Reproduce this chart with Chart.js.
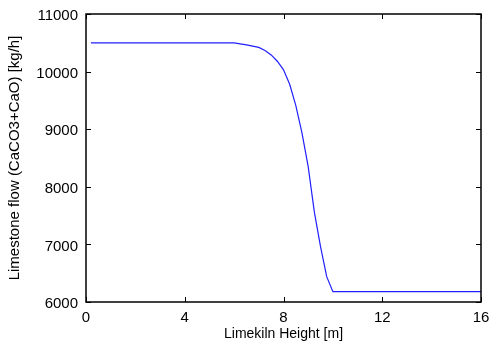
<!DOCTYPE html>
<html>
<head>
<meta charset="utf-8">
<script src="https://cdn.jsdelivr.net/npm/chart.js@4.4.0/dist/chart.umd.min.js"></script>
<style>
  html, body { margin: 0; padding: 0; background: #fff; }
  #wrap { width: 489px; height: 344px; position: relative; }
</style>
</head>
<body>
<div id="wrap"><canvas id="grafico"></canvas></div>
<script>
// altura del horno (m) y caudal de caliza (kg/h)
var alturas = [0.2, 6.0, 6.5, 7.0, 7.25, 7.5, 7.75, 8.0, 8.25, 8.5, 8.75, 9.0, 9.25, 9.5, 9.75, 10.0, 16.0];
var caudales = [10500, 10500, 10465, 10420, 10365, 10290, 10180, 10030, 9780, 9410, 8930, 8350, 7560, 6960, 6440, 6180, 6180];
var ticksX = [0, 4, 8, 12, 16];
var ticksY = [6000, 7000, 8000, 9000, 10000, 11000];

var puntos = [];
for (let i = 0; i < alturas.length; i++) {
    puntos.push({ x: alturas[i], y: caudales[i] });
}

// marco negro y marcas hacia dentro en los cuatro lados
var marcoEjes = {
    id: 'marcoEjes',
    afterDraw: function (chart) {
        let ctx = chart.ctx;
        let a = chart.chartArea;
        let sx = chart.scales.x;
        let sy = chart.scales.y;
        let largo = 5;
        ctx.save();
        ctx.strokeStyle = '#000';
        ctx.lineWidth = 1;
        ctx.beginPath();
        for (let v of ticksX) {
            let px = Math.round(sx.getPixelForValue(v)) + 0.5;
            ctx.moveTo(px, a.bottom); ctx.lineTo(px, a.bottom - largo);
            ctx.moveTo(px, a.top); ctx.lineTo(px, a.top + largo);
        }
        for (let v of ticksY) {
            let py = Math.round(sy.getPixelForValue(v)) + 0.5;
            ctx.moveTo(a.left, py); ctx.lineTo(a.left + largo, py);
            ctx.moveTo(a.right, py); ctx.lineTo(a.right - largo, py);
        }
        ctx.stroke();
        ctx.lineWidth = 1.5;
        ctx.strokeRect(a.left, a.top, a.right - a.left, a.bottom - a.top);
        ctx.restore();
    }
};

Chart.defaults.font.family = '"Liberation Sans", Arial, sans-serif';
Chart.defaults.color = '#000';

new Chart(document.getElementById('grafico'), {
    type: 'scatter',
    data: {
        datasets: [{
            data: puntos,
            showLine: true,
            borderColor: '#2020ff',
            borderWidth: 1.2,
            pointRadius: 0,
            tension: 0,
            fill: false
        }]
    },
    options: {
        responsive: true,
        maintainAspectRatio: false,
        animation: false,
        layout: { padding: { top: 14, right: 8, left: 0, bottom: 0 } },
        plugins: {
            legend: { display: false },
            tooltip: { enabled: false }
        },
        scales: {
            x: {
                type: 'linear',
                min: 0,
                max: 16,
                border: { display: false },
                grid: { display: false, drawTicks: false },
                afterBuildTicks: function (s) { s.ticks = ticksX.map(v => ({ value: v })); },
                afterFit: function (s) {
                    s.height = 42;
                    s.paddingLeft = 0;
                    s.paddingRight = 0;
                },
                ticks: {
                    font: { size: 15 },
                    padding: 7,
                    maxRotation: 0,
                    autoSkip: false
                },
                title: {
                    display: true,
                    text: 'Limekiln Height [m]',
                    font: { size: 14 },
                    padding: { top: 0, bottom: 1 }
                }
            },
            y: {
                min: 6000,
                max: 11000,
                border: { display: false },
                grid: { display: false, drawTicks: false },
                afterBuildTicks: function (s) { s.ticks = ticksY.map(v => ({ value: v })); },
                afterFit: function (s) {
                    s.width = 86;
                    s.paddingTop = 0;
                    s.paddingBottom = 0;
                },
                ticks: {
                    font: { size: 15 },
                    padding: 8,
                    labelOffset: 2,
                    autoSkip: false,
                    callback: function (v) { return String(v); }
                },
                title: {
                    display: true,
                    text: 'Limestone flow (CaCO3+CaO) [kg/h]',
                    font: { size: 15 },
                    padding: { top: 6, bottom: 6 }
                }
            }
        }
    },
    plugins: [marcoEjes]
});
</script>
</body>
</html>
